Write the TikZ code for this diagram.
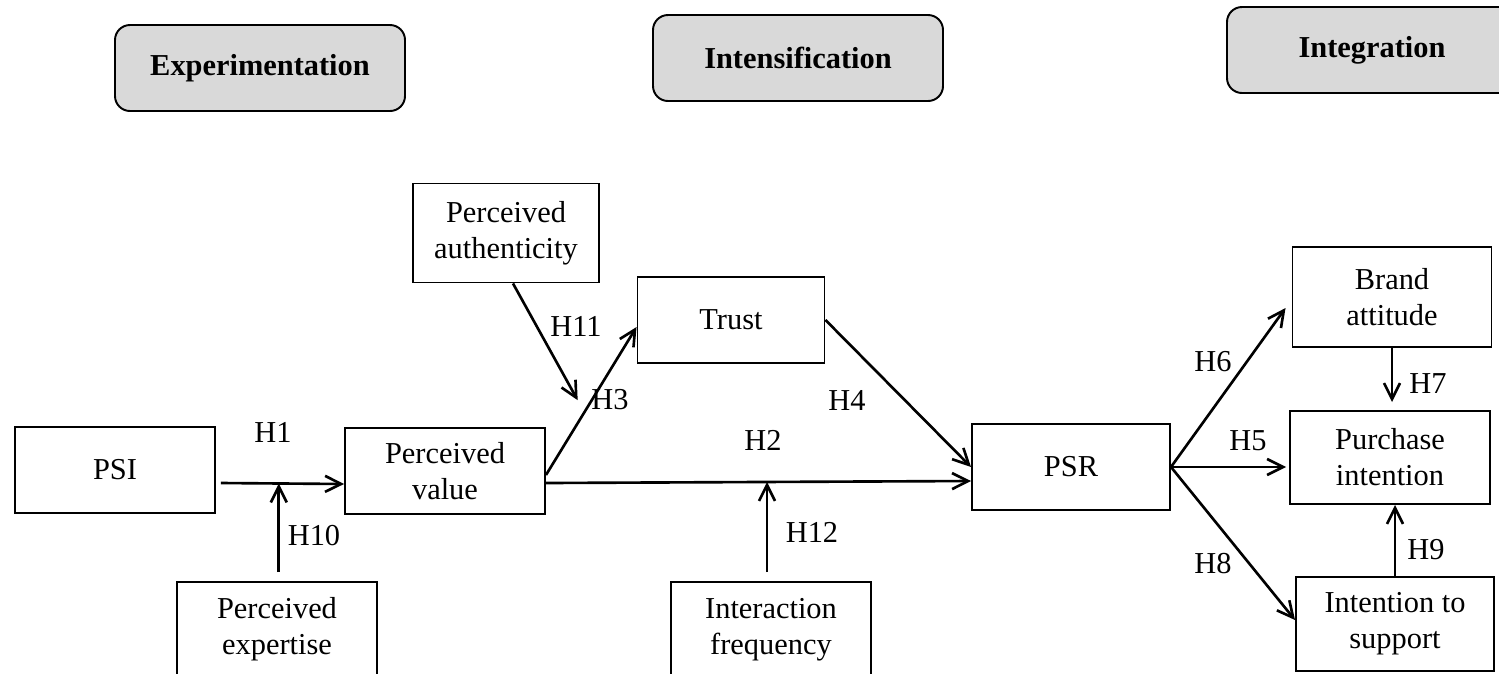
\documentclass[tikz,border=0pt]{standalone}
\usepackage{fontspec}
\setmainfont{Liberation Serif}
\usetikzlibrary{arrows.meta,positioning}
\definecolor{stagegray}{RGB}{217,217,217}

\begin{document}
\begin{tikzpicture}[
    x=0.2mm, y=-0.2mm,
    >={Straight Barb[length=3.2mm,width=3.2mm]},
    every node/.style={font=\fontsize{17.3}{20.5}\selectfont},
    var/.style={
        draw,
        line width=1.1pt,
        minimum width=40mm,
        minimum height=17.2mm,
        align=center
    },
    stage/.style={
        draw,
        line width=1.1pt,
        rounded corners=3mm,
        fill=stagegray,
        minimum width=58mm,
        minimum height=17.2mm,
        font=\fontsize{17.3}{20.5}\selectfont\bfseries
    },
    arr/.style={->, line width=1.5pt},
    hyp/.style={inner sep=0pt}
]
\useasboundingbox (0,0) rectangle (1499,673);
\clip (0,0) rectangle (1499,673);

\node[stage] (Exper) at (260,68) {Experimentation};
\node[stage] (Inten) at (798,58) {Intensification};
\node[stage] (Integ) at (1372,50) {Integration};

\node[var] (PSI)   at (115,470)   {PSI};
\node[var] (PV)    at (445,471)   {Perceived\\ value};
\node[var, minimum width=37.2mm, minimum height=19.8mm] (PA) at (506,233) {Perceived\\ authenticity};
\node[var, minimum width=37.4mm] (Trust) at (731,320) {Trust};
\node[var, minimum height=19mm] (PE) at (277,629.5) {Perceived\\ expertise};
\node[var, minimum height=19mm] (IF) at (771,629.5) {Interaction\\ frequency};
\node[var, minimum width=39.6mm] (PSR) at (1071,467) {PSR};
\node[var, minimum width=39.8mm, minimum height=20mm] (BA) at (1392,297) {Brand\\ attitude};
\node[var, minimum height=18.6mm] (PI) at (1390,457.5) {Purchase\\ intention};
\node[var, minimum width=39.6mm, minimum height=18.8mm] (IS) at (1395,624) {Intention to\\ support};

\draw[arr] ([xshift=1mm,yshift=-2.6mm]PSI.east) -- coordinate[pos=0.47] (h1m) ([yshift=-2.6mm]PV.west);
\draw[arr] ([yshift=1.8mm]h1m |- PE.north) -- (h1m);
\draw[arr] ([yshift=-2.4mm]PV.east) -- coordinate[pos=0.52] (h2m) ([yshift=-2.8mm]PSR.west);
\draw[arr] ([yshift=1.8mm]h2m |- IF.north) -- (h2m);
\draw[arr] ([yshift=-0.8mm]PV.east) -- coordinate[pos=0.35] (h3m) ([yshift=-1.4mm]Trust.west);
\draw[arr] ([xshift=1.4mm]PA.south) -- ([yshift=4.6mm]h3m);
\draw[arr] (Trust.east) -- (PSR.west);
\draw[arr] (PSR.east) -- ([xshift=-0.6mm]PSR.east -| PI.west);
\draw[arr] (PSR.east) -- ([xshift=-1.2mm,yshift=-2.2mm]BA.west);
\draw[arr] (PSR.east) -- ([yshift=0.8mm]IS.west);
\draw[arr] (BA.south) -- ([yshift=1.6mm]BA.south |- PI.north);
\draw[arr] (IS.north) -- (IS.north |- PI.south);

\node[hyp] (H1)  at (273,432)  {H1};
\node[hyp] (H10) at (314,536)  {H10};
\node[hyp] (H2)  at (763,440)  {H2};
\node[hyp] (H12) at (812,532)  {H12};
\node[hyp] (H11) at (576,326)  {H11};
\node[hyp] (H3)  at (610,400)  {H3};
\node[hyp] (H4)  at (847,400)  {H4};
\node[hyp] (H6)  at (1213,362) {H6};
\node[hyp] (H5)  at (1248,441) {H5};
\node[hyp] (H8)  at (1213,564) {H8};
\node[hyp] (H7)  at (1428,384) {H7};
\node[hyp] (H9)  at (1426,550) {H9};

\end{tikzpicture}
\end{document}
